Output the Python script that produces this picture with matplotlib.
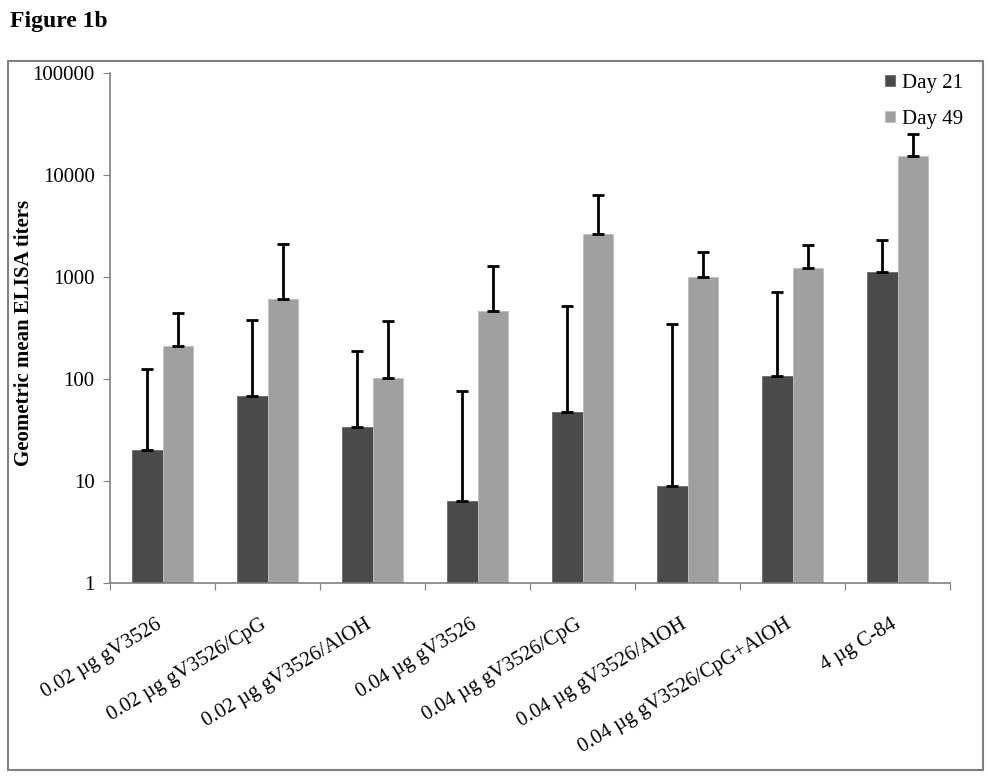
import matplotlib
matplotlib.use("Agg")
import matplotlib.pyplot as plt
import numpy as np
from matplotlib.patches import Rectangle

categories = ["0.02 µg gV3526", "0.02 µg gV3526/CpG", "0.02 µg gV3526/AlOH",
              "0.04 µg gV3526", "0.04 µg gV3526/CpG", "0.04 µg gV3526/AlOH",
              "0.04 µg gV3526/CpG+AlOH", "4 µg C-84"]
day21 = [20, 68, 34, 6.4, 48, 8.9, 107, 1115]
day21_err_top = [126, 381, 189, 77, 524, 347, 710, 2280]
day49 = [213, 608, 102, 463, 2640, 1000, 1224, 15200]
day49_err_top = [445, 2110, 370, 1292, 6420, 1778, 2061, 25000]
yticks = [1, 10, 100, 1000, 10000, 100000]

plt.rcParams['font.family'] = ['Liberation Serif', 'DejaVu Serif']

fig = plt.figure(figsize=(9.88, 7.76), dpi=100)
fig.patches.append(Rectangle((8/988, 1-770/776), 975/988, (770-61)/776,
                             transform=fig.transFigure, fill=False,
                             edgecolor='#808080', linewidth=1.5))
fig.text(10/988, 1-22/776, "Figure 1b", fontsize=17, fontweight='bold',
         va='center', ha='left')

ax = fig.add_axes([110/988, 1-583/776, 840/988, (583-73)/776])
x = np.arange(len(categories))
w = 0.29
d21 = np.array(day21); d49 = np.array(day49)
ax.bar(x - w/2, d21, w, color='#4a4a4a', edgecolor='#6a6a6a', linewidth=0.6, label='Day 21', zorder=2)
ax.bar(x + w/2, d49, w, color='#a0a0a0', edgecolor='#c0c0c0', linewidth=0.6, label='Day 49', zorder=2)
ax.errorbar(x - w/2, d21, yerr=[np.zeros_like(d21), np.array(day21_err_top) - d21],
            fmt='none', ecolor='black', elinewidth=2, capsize=4.5, capthick=2, zorder=3)
ax.errorbar(x + w/2, d49, yerr=[np.zeros_like(d49), np.array(day49_err_top) - d49],
            fmt='none', ecolor='black', elinewidth=2, capsize=4.5, capthick=2, zorder=3)

ax.set_yscale('log')
ax.set_ylim(1, 100000)
ax.set_xlim(-0.5, len(categories) - 0.5)
ax.set_yticks(yticks)
ax.set_yticklabels([str(v) for v in yticks], fontsize=15)
ax.yaxis.set_minor_locator(matplotlib.ticker.NullLocator())
ax.set_xticks(np.arange(len(categories) + 1) - 0.5)
ax.set_xticklabels([])
ax.set_xticks(x - 0.07, minor=True)
ax.set_xticklabels(categories, minor=True, rotation=31, ha='right', va='top',
                   rotation_mode='anchor', fontsize=15)
ax.tick_params(axis='x', which='minor', length=0, pad=23)
ax.tick_params(axis='x', which='major', length=5, color='#808080')
ax.tick_params(axis='y', length=5, color='#808080', pad=6)
for s in ['top', 'right']:
    ax.spines[s].set_visible(False)
for s in ['left', 'bottom']:
    ax.spines[s].set_color('#808080')
    ax.spines[s].set_linewidth(1.2)
ax.set_ylabel("Geometric mean ELISA titers", fontsize=15, fontweight='bold')
ax.yaxis.set_label_coords((24 - 110) / 840, 0.49)
ax.yaxis.label.set_va('center')

leg = fig.legend(loc='upper right', bbox_to_anchor=(963/988, 1-74/776), frameon=False, fontsize=15,
                 handlelength=0.45, handleheight=0.45, handletextpad=0.35, labelspacing=0.8,
                 borderaxespad=0, borderpad=0)

fig.savefig("out.png", dpi=100)
